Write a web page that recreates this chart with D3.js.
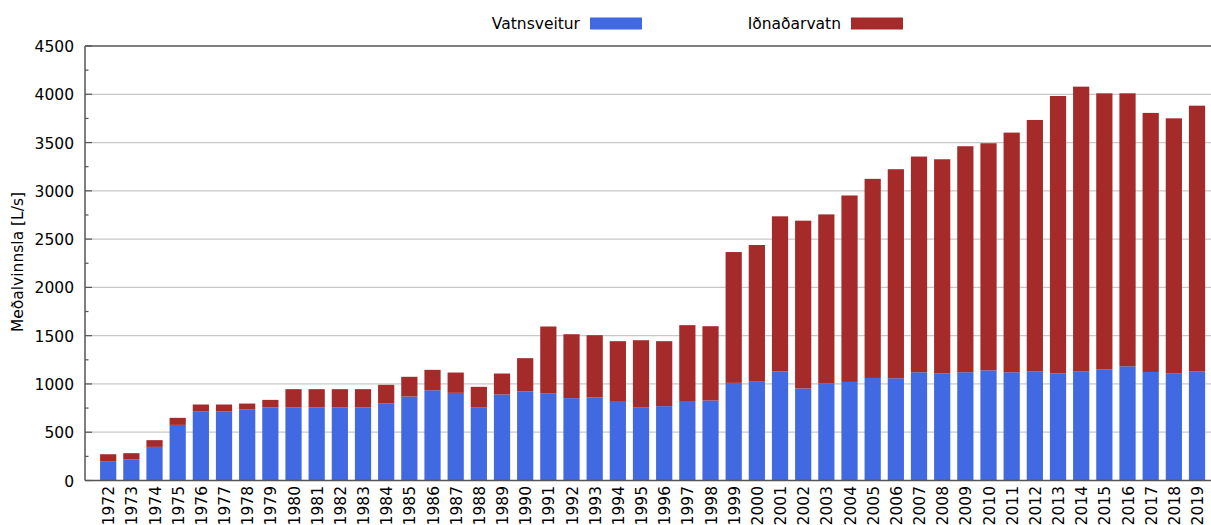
<!DOCTYPE html>
<html>
<head>
<meta charset="utf-8">
<script src="https://cdn.jsdelivr.net/npm/d3@7"></script>
<style>
  body { margin:0; background:#fff; }
  svg { display:block; font-family:"DejaVu Sans", sans-serif; }
</style>
</head>
<body>
<svg id="chart"></svg>
<script>
const years = [];
for(let y=1972;y<=2019;y++) years.push(String(y));

// Vatnsveitur (blue)
const vatnsveitur = [200,217,348,576,714,714,735,756,756,756,756,756,797,870,935,908,
  759,891,922,904,853,860,815,759,770,815,829,1011,1029,1129,953,1008,
  1021,1062,1059,1121,1110,1121,1141,1121,1128,1110,1128,1152,1183,1124,1107,1128];
// Iðnaðarvatn (red)
const idnadarvatn = [72,66,70,73,73,73,62,79,190,190,190,190,194,204,211,210,
  211,217,345,691,662,645,628,694,673,794,769,1355,1410,1607,1738,1748,
  1931,2062,2165,2234,2217,2341,2352,2482,2606,2872,2951,2858,2827,2683,2644,2754];

const seriesNames = ['Vatnsveitur','Iðnaðarvatn'];
const colors = ['#4169e1','#a52a2a'];
const yTicks = [0,500,1000,1500,2000,2500,3000,3500,4000,4500];

const W = 1211, H = 525;
const svg = d3.select('#chart').attr('width',W).attr('height',H);

const x = d3.scaleBand().domain(years).range([96.6,1208.6]).paddingInner(0.3).paddingOuter(0.15);
const y = d3.scaleLinear().domain([0,4500]).range([480.5,46]);

const rows = years.map((yr,i)=>({year:yr, Vatnsveitur:vatnsveitur[i], 'Iðnaðarvatn':idnadarvatn[i]}));
const stacked = d3.stack().keys(seriesNames)(rows);

// grid
svg.append('g').selectAll('line').data(yTicks.filter(t=>t>0&&t<4500)).enter().append('line')
  .attr('x1',85).attr('x2',W).attr('y1',d=>y(d)).attr('y2',d=>y(d))
  .style('stroke','#c8c8c8').style('stroke-width',1.2);

// bars
svg.append('g').selectAll('g').data(stacked).enter().append('g')
  .attr('fill',(d,i)=>colors[i])
  .selectAll('rect').data(d=>d).enter().append('rect')
  .attr('x',d=>x(d.data.year))
  .attr('width',x.bandwidth())
  .attr('y',d=>y(d[1]))
  .attr('height',d=>y(d[0])-y(d[1]));

// minor ticks
const minor = d3.range(250,4500,500);
svg.append('g').selectAll('line').data(minor).enter().append('line')
  .attr('x1',85).attr('x2',88.5).attr('y1',d=>y(d)).attr('y2',d=>y(d))
  .style('stroke','#555').style('stroke-width',1.2);
svg.append('g').selectAll('line').data(yTicks).enter().append('line')
  .attr('x1',85).attr('x2',92).attr('y1',d=>y(d)).attr('y2',d=>y(d))
  .style('stroke','#555').style('stroke-width',1.2);

// frame
svg.append('line').attr('x1',85).attr('x2',85).attr('y1',y(4500)).attr('y2',y(0))
  .style('stroke','#555').style('stroke-width',1.5);
svg.append('line').attr('x1',85).attr('x2',W).attr('y1',y(0)).attr('y2',y(0))
  .style('stroke','#555').style('stroke-width',1.5);
svg.append('line').attr('x1',85).attr('x2',W).attr('y1',y(4500)).attr('y2',y(4500))
  .style('stroke','#555').style('stroke-width',1.5);

// y tick labels
svg.append('g').selectAll('text').data(yTicks).enter().append('text')
  .attr('x',74).attr('y',d=>y(d)+1).attr('text-anchor','end')
  .attr('dominant-baseline','central')
  .style('font-size','15.5px').style('fill','#000')
  .text(d=>d);

// x labels
svg.append('g').selectAll('text').data(years).enter().append('text')
  .attr('transform',d=>`translate(${x(d)+x.bandwidth()/2+1},486) rotate(-90)`)
  .attr('text-anchor','end').attr('dominant-baseline','central')
  .style('font-size','15.5px').style('fill','#000')
  .text(d=>d);

// y axis title
svg.append('text')
  .attr('transform','translate(18,262) rotate(-90)')
  .attr('text-anchor','middle').attr('dominant-baseline','central')
  .style('font-size','15.5px')
  .text('Meðalvinnsla [L/s]');

// legend
const legendPos = [{tx:580, rx:590},{tx:841, rx:851}];
seriesNames.forEach((name,i)=>{
  svg.append('text').attr('x',legendPos[i].tx).attr('y',29)
    .attr('text-anchor','end').style('font-size','15.5px').text(name);
  svg.append('rect').attr('x',legendPos[i].rx).attr('y',17.5)
    .attr('width',52).attr('height',12).attr('fill',colors[i]);
});
</script>
</body>
</html>
